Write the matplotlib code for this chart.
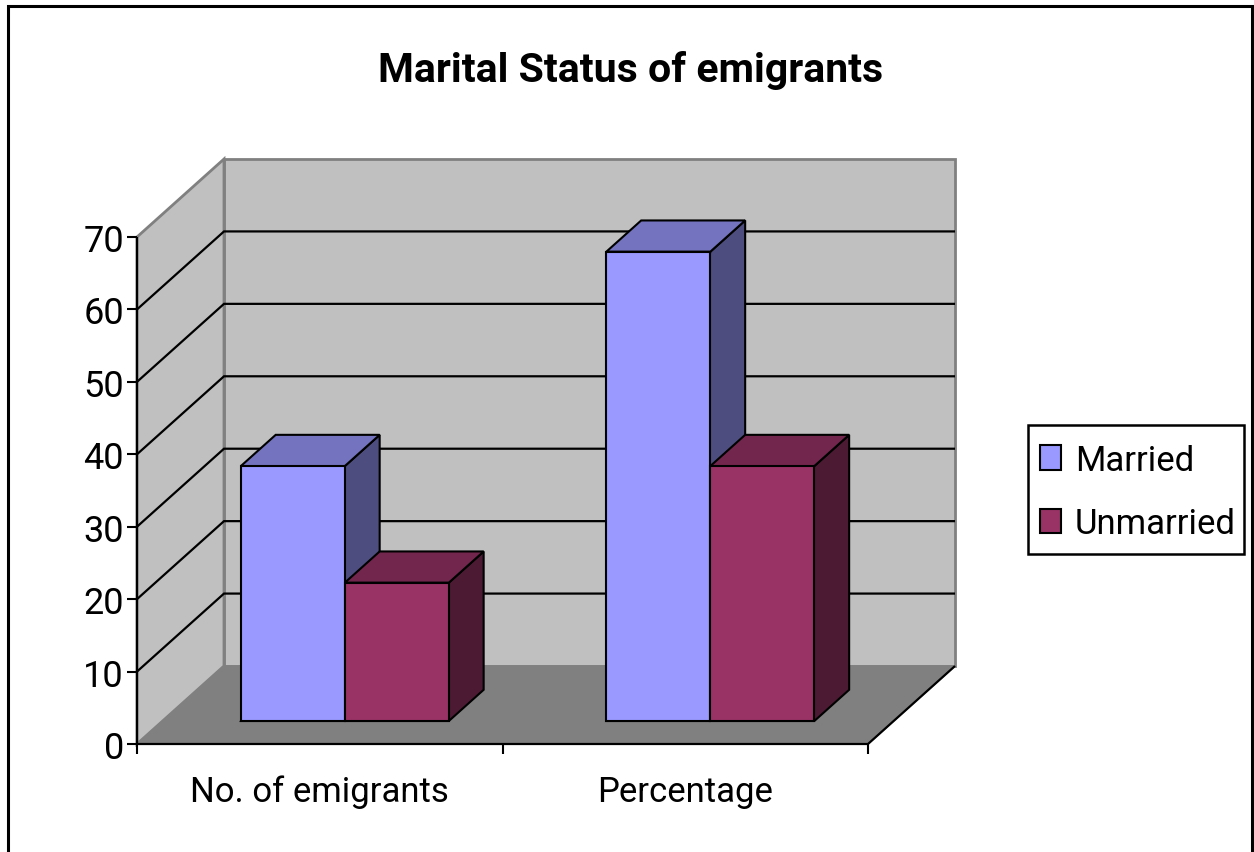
import matplotlib
matplotlib.use("Agg")
import matplotlib.pyplot as plt
from matplotlib.patches import Polygon, Rectangle
from matplotlib.ticker import FixedLocator, FixedFormatter, NullFormatter

title = "Marital Status of emigrants"
categories = ["No. of emigrants", "Percentage"]
series_names = ["Married", "Unmarried"]
married = [35.2, 64.8]
unmarried = [19.1, 35.2]
colors = ["#9999FF", "#993366"]
side_colors = ["#4D4D80", "#4D1A33"]
top_colors = ["#7373BF", "#73264D"]
y_ticks = [0, 10, 20, 30, 40, 50, 60, 70]

W, H = 1254, 853
plt.rcParams["font.family"] = ["Roboto", "Liberation Sans"]

fig = plt.figure(figsize=(W / 100, H / 100), dpi=100, facecolor="white")
L, R, T, B = 137, 868, 238, 745
ax = fig.add_axes([L / W, 1 - B / H, (R - L) / W, (B - T) / H])
ax.set_xlim(0, 2)
ax.set_ylim(0, 70)
ax.patch.set_visible(False)
for s in ax.spines.values():
    s.set_visible(False)

# oblique depth vector, in data units
DX = 87 / 365.5
DY = 78 / (507 / 70)


def proj(x, y, d=0.0):
    return (x + DX * d, y + DY * d)


def poly(pts, fc, ec="black", lw=1.5, z=2):
    ax.add_patch(Polygon(pts, closed=True, facecolor=fc, edgecolor=ec, linewidth=lw,
                         clip_on=False, zorder=z, joinstyle="miter"))


def line(pts, color="black", lw=1.6, z=1.5):
    ax.plot([p[0] for p in pts], [p[1] for p in pts], color=color, lw=lw,
            clip_on=False, zorder=z, solid_joinstyle="miter", solid_capstyle="butt")


# frame around chart
fig.add_artist(Rectangle((8 / W, -0.01), (1252 - 8) / W, 1.01 - 7 / H, transform=fig.transFigure,
                         facecolor="none", edgecolor="black", linewidth=2.2))

# walls and floor
poly([proj(0, 0, 1), proj(2, 0, 1), proj(2, 70, 1), proj(0, 70, 1)], "#C0C0C0", "#808080", 2, 1)
poly([proj(0, 0), proj(0, 0, 1), proj(0, 70, 1), proj(0, 70)], "#C0C0C0", "#808080", 2, 1)
poly([proj(0, 0), proj(2, 0), proj(2, 0, 1), proj(0, 0, 1)], "#808080", "#808080", 1, 1.1)

# gridlines on side and back wall
for v in y_ticks[1:-1]:
    line([proj(0, v), proj(0, v, 1), proj(2, v, 1)])

# floor edges and axis lines
line([proj(0, 0), proj(2, 0), proj(2, 0, 1)], z=1.6)
line([proj(0, 0), proj(0, 70)], z=1.6)

# bars
BAR_W = 0.2845
START = 0.214
D0, D1 = 0.295, 0.695


def bar3d(x, v, i, z):
    poly([proj(x, 0, D0), proj(x + BAR_W, 0, D0), proj(x + BAR_W, 0, D1), proj(x + BAR_W, v, D1),
          proj(x + BAR_W, v, D0)], side_colors[i], z=z)
    poly([proj(x, v, D0), proj(x + BAR_W, v, D0), proj(x + BAR_W, v, D1), proj(x, v, D1)],
         top_colors[i], z=z)
    poly([proj(x, 0, D0), proj(x + BAR_W, 0, D0), proj(x + BAR_W, v, D0), proj(x, v, D0)],
         colors[i], z=z + 0.1)


for c in range(len(categories)):
    bar3d(c + START, married[c], 0, 3 + c)
    bar3d(c + START + BAR_W, unmarried[c], 1, 3.3 + c)

# axes ticks and labels
ax.yaxis.set_major_locator(FixedLocator(y_ticks))
ax.xaxis.set_major_locator(FixedLocator([0, 1, 2]))
ax.xaxis.set_major_formatter(NullFormatter())
ax.xaxis.set_minor_locator(FixedLocator([0.5, 1.5]))
ax.xaxis.set_minor_formatter(FixedFormatter(categories))
ax.tick_params(axis="both", which="major", length=7, width=1.5, color="black")
ax.tick_params(axis="x", which="minor", length=0, pad=22, labelsize=25)
ax.tick_params(axis="y", which="major", labelsize=26, pad=2.5)

fig.text(631 / W, 1 - 70 / H, title, ha="center", va="center", fontsize=29.5, fontweight="bold")

# legend box and entries
fig.add_artist(Rectangle((1028 / W, 1 - 555 / H), (1244 - 1028) / W, (555 - 426) / H,
                         transform=fig.transFigure, facecolor="none", edgecolor="black",
                         linewidth=1.8, zorder=19))
leg = ax.legend(handles=[Rectangle((0, 0), 1, 1, facecolor=colors[i], edgecolor="black", linewidth=1.5)
                         for i in range(2)],
                labels=series_names, loc="center left",
                bbox_to_anchor=(1040 / W, 1 - 493 / H), bbox_transform=fig.transFigure,
                fontsize=25, frameon=False,
                borderaxespad=0, borderpad=0, handlelength=0.6, handleheight=0.7,
                handletextpad=0.4, labelspacing=0.88)
leg.set_zorder(20)

fig.savefig("out.png", dpi=100)
